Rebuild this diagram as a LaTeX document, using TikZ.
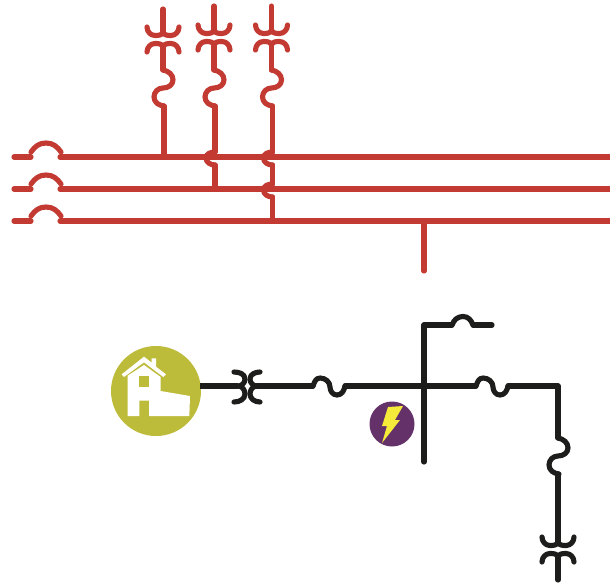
\documentclass[tikz,border=0pt]{standalone}
\definecolor{netred}{HTML}{C33A33}
\definecolor{netblack}{HTML}{1D1D1B}
\definecolor{olive}{HTML}{BDBB3A}
\definecolor{plum}{HTML}{653169}
\definecolor{bolt}{HTML}{F5EB3B}
\tikzset{
  wire/.style={line width=3.85pt,line cap=round,line join=round},
  redwire/.style={wire,draw=netred},
  blackwire/.style={wire,draw=netblack},
  pics/xfmr/.style={code={
    \draw[pic actions] (-16,-13) to[out=-90,in=180] (-8,-4.5) to[out=0,in=-105] (0,-8);
    \draw[pic actions] (16,-13) to[out=-90,in=0] (8,-4.5) to[out=180,in=-75] (0,-8);
    \draw[pic actions] (-16,12) to[out=90,in=180] (-8,3.5) to[out=0,in=105] (0,7);
    \draw[pic actions] (16,12) to[out=90,in=0] (8,3.5) to[out=180,in=75] (0,7);
  }},
  pics/sbend/.style={code={
    \draw[pic actions] (0,0) to[out=-10,in=90] (10,10) to[out=-90,in=0] (0,18) to[out=180,in=90] (-9,27) to[out=-90,in=175] (1,36);
  }},
  pics/hopleft/.style={code={
    \draw[pic actions] (0,-5) to[out=180,in=90] (-9,1) to[out=-90,in=180] (0,8);
  }},
  pics/humpup/.style={code={
    \draw[pic actions] (0,0) to[out=55,in=180] (15,-9) to[out=0,in=125] (30,0);
  }},
  pics/wave/.style={code={
    \draw[pic actions] (0,0) to[out=70,in=180] (7,-8) to[out=0,in=90] (17,1) to[out=-90,in=180] (24,9) to[out=0,in=-100] (32,0);
  }}
}
\begin{document}
\begin{tikzpicture}[x=0.75pt,y=-0.75pt]
\useasboundingbox (0,0) rectangle (610,582);

% --- red network ---
\foreach \n/\yy in {a/157,b/189,c/221}{
  \coordinate (st\n) at (14,\yy);
  \coordinate (sm\n) at (31,\yy);
  \coordinate (bs\n) at (60,\yy);
  \coordinate (be\n) at (610,\yy);
  \draw[redwire] (st\n) -- (sm\n);
  \draw[redwire,line cap=butt] (bs\n) -- (be\n);
  \draw[redwire] (bs\n) -- ++(3,0);
  \pic[redwire] at (31,\yy-5) {humpup};
}
% phase feeders
\pic[redwire] at (163,40) {xfmr};
\pic[redwire] at (214,38) {xfmr};
\pic[redwire] at (271.5,38) {xfmr};
\coordinate (t1) at (163,9);    \coordinate (m1) at (163,32); \coordinate (n1) at (163,47); \coordinate (s1) at (163,70);
\coordinate (t2) at (214,6);    \coordinate (m2) at (214,30); \coordinate (n2) at (214,45); \coordinate (s2) at (214,70);
\coordinate (t3) at (271.5,6);  \coordinate (m3) at (271.5,30); \coordinate (n3) at (271.5,45); \coordinate (s3) at (271.5,70);
\draw[redwire] (t1) -- (m1);
\draw[redwire] (n1) -- (s1);
\draw[redwire] (t2) -- (m2);
\draw[redwire] (n2) -- (s2);
\draw[redwire] (t3) -- (m3);
\draw[redwire] (n3) -- (s3);
\pic[redwire] at (s1) {sbend};
\pic[redwire] at (s2) {sbend};
\pic[redwire] at (s3) {sbend};
\draw[redwire] (164,106) -- (164,157);
\draw[redwire] (215,106) -- (215,152);
\pic[redwire] at (215,157) {hopleft};
\draw[redwire] (215,165) -- (215,189);
\draw[redwire] (272.5,106) -- (272.5,152);
\pic[redwire] at (272.5,157) {hopleft};
\draw[redwire] (272.5,165) -- (272.5,184);
\pic[redwire] at (272.5,189) {hopleft};
\draw[redwire] (272.5,197) -- (272.5,221);
\coordinate (dropA) at (424,221);
\coordinate (dropB) at (424,271);
\draw[redwire] (dropA) -- (dropB);

% --- black network ---
\node[circle,fill=olive,minimum size=67.5pt,inner sep=0pt] (house) at (156,391) {};
\node[circle,fill=plum,minimum size=33.75pt,inner sep=0pt] (energy) at (392,424) {};

% house icon (coordinates: zoom-based, 1/3 px)
\begin{scope}[shift={(100,335)},x=0.25pt,y=-0.25pt]
  \fill[white] (65,118) -- (132,65) -- (155,83) -- (155,70) -- (168,70) -- (168,95) -- (198,118) -- (190,126) -- (132,82) -- (72,126) -- cycle;
  \fill[white] (83,122) -- (132,90) -- (182,126) -- (182,168) -- (270,183) -- (268,243) -- (147,243) -- (147,197) -- (118,197) -- (118,243) -- (83,243) -- cycle;
  \fill[olive] (118,122) rectangle (147,155);
\end{scope}
% lightning bolt
\fill[bolt] (388,407) -- (403,406) -- (395,420) -- (400,420) -- (382,443) -- (387,426) -- (382,426) -- cycle;

\coordinate (tl) at (238,386);
\coordinate (tr) at (257,386);
\coordinate (f1l) at (313,386);
\coordinate (f1r) at (345,386);
\coordinate (hub) at (424,386);
\coordinate (f2l) at (476,386);
\coordinate (f2r) at (508,386);
\coordinate (corner) at (558,386);
\coordinate (s4) at (558,438);
\coordinate (s4e) at (558,474);
\coordinate (vtop) at (424,325);
\coordinate (vbot) at (424,462);
\coordinate (f3l) at (452,325);
\coordinate (f3r) at (473,325);
\coordinate (stub) at (492,325);
\draw[blackwire,line cap=butt] (200,386) -- (tl);
\draw[blackwire] (234,372) to[out=0,in=90] (245,379) to[out=-90,in=0] (238,386) to[out=0,in=90] (245,394) to[out=-90,in=0] (234,402);
\draw[blackwire] (260,372) to[out=180,in=90] (250,379) to[out=-90,in=180] (257,386) to[out=180,in=90] (250,394) to[out=-90,in=180] (260,402);
\draw[blackwire] (tr) -- (f1l);
\pic[blackwire] at (f1l) {wave};
\draw[blackwire] (f1r) -- (hub) -- (f2l);
\pic[blackwire] at (f2l) {wave};
\draw[blackwire] (f2r) -- (corner) -- (s4);
\pic[blackwire] at (s4) {sbend};
\draw[blackwire] (s4e) -- (558,542);
\draw[blackwire] (vbot) -- (vtop) -- (f3l);
\draw[blackwire] (f3l) to[out=70,in=180] (463,316.5) to[out=0,in=110] (f3r);
\draw[blackwire] (f3r) -- (stub);
\pic[blackwire] at (558,550) {xfmr};
\draw[blackwire] (558,557) -- (558,580);
\end{tikzpicture}
\end{document}
